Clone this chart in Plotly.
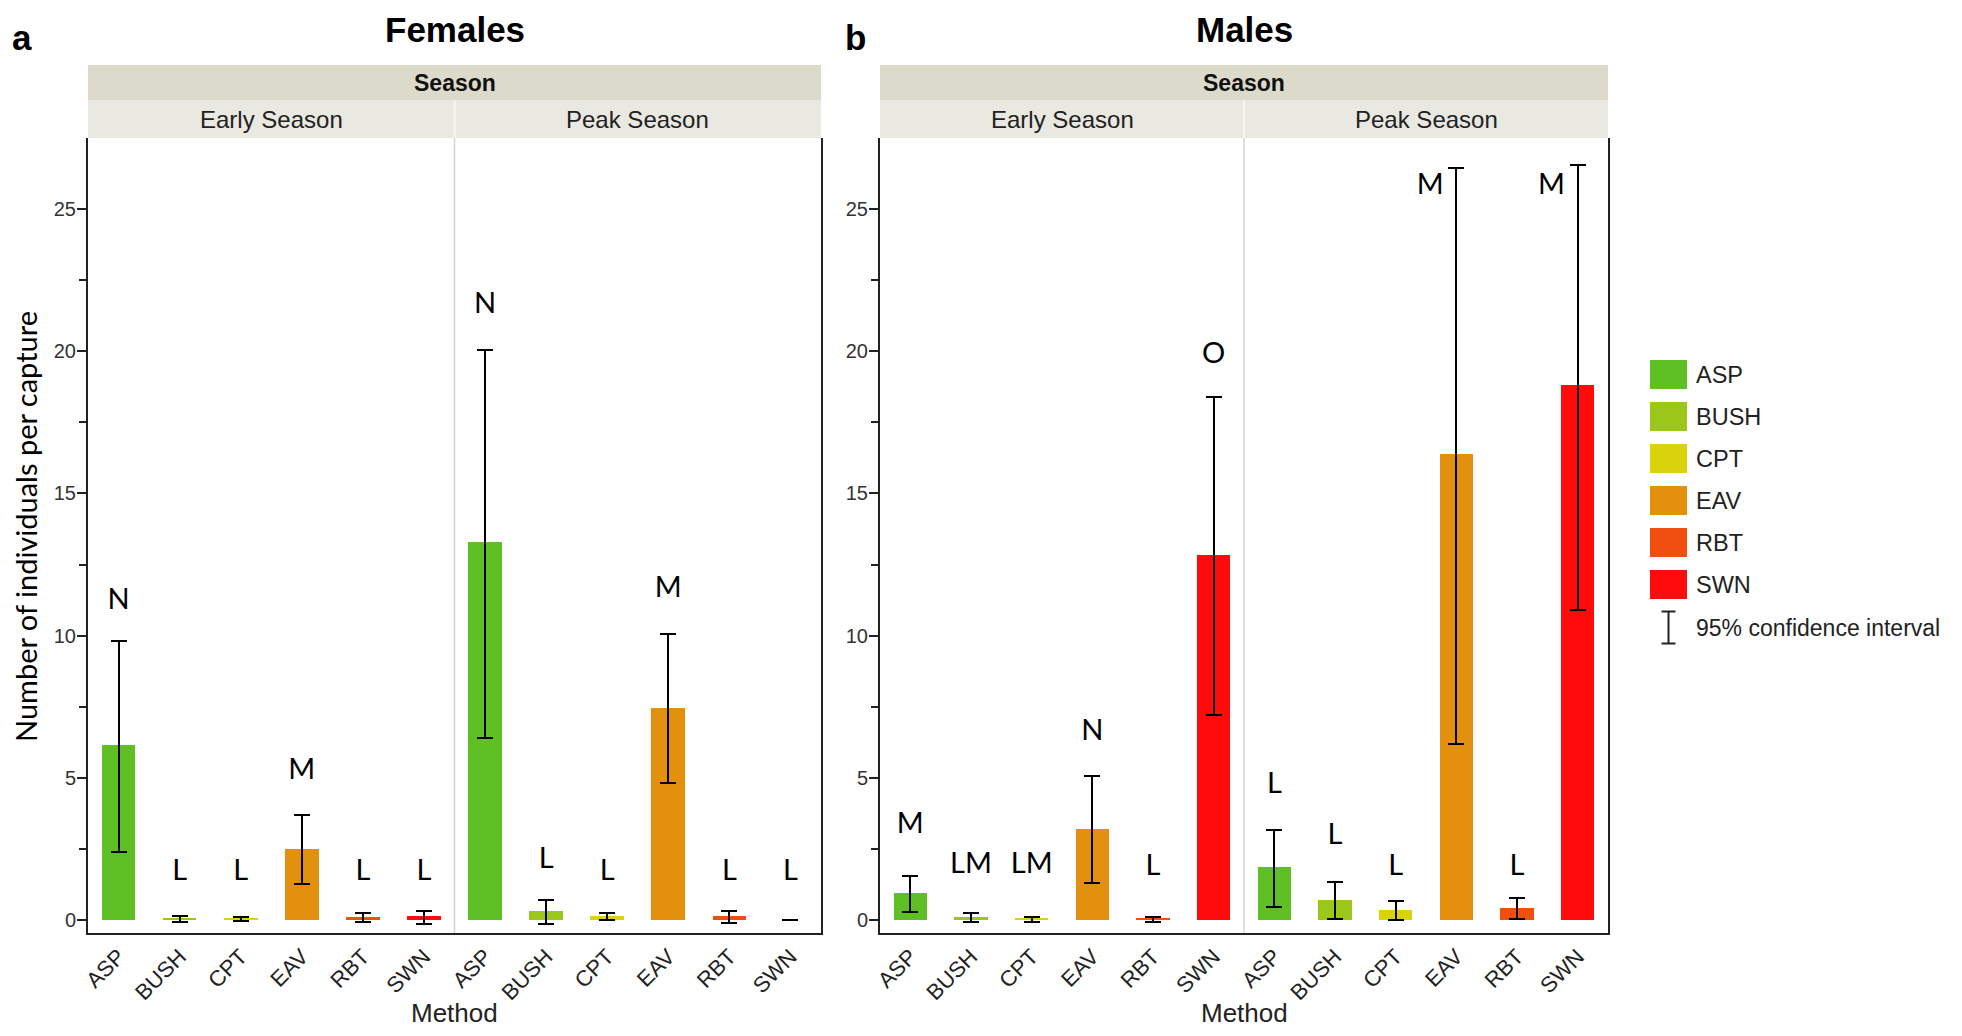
import plotly.graph_objects as go

# ---------------- data ----------------
methods = ["ASP", "BUSH", "CPT", "EAV", "RBT", "SWN"]
seasons = ["Early Season", "Peak Season"]
method_colors = ["#5EC024", "#9BC61A", "#D9D30B", "#E3900E", "#F0500F", "#FF0B0B"]

# Females (Early season x6, then Peak season x6)
fem_mean = [6.15, 0.08, 0.04, 2.50, 0.12, 0.13, 13.30, 0.32, 0.13, 7.47, 0.13, 0.00]
fem_lo = [2.40, -0.06, -0.05, 1.25, -0.09, -0.15, 6.40, -0.14, 0.01, 4.80, -0.10, 0.00]
fem_hi = [9.80, 0.14, 0.10, 3.70, 0.23, 0.33, 20.05, 0.70, 0.25, 10.05, 0.33, 0.00]
fem_letters = ["N", "L", "L", "M", "L", "L", "N", "L", "L", "M", "L", "L"]
fem_letter_y = [11.2, 1.65, 1.65, 5.2, 1.65, 1.65, 21.6, 2.07, 1.65, 11.6, 1.65, 1.65]
fem_letter_dx = [0, 0, 0, 0, 0, 0, 0, 0, 0, 0, 0, 0]

# Males
male_mean = [0.95, 0.10, 0.04, 3.20, 0.05, 12.85, 1.85, 0.70, 0.35, 16.37, 0.43, 18.80]
male_lo = [0.27, -0.08, -0.07, 1.30, -0.07, 7.20, 0.45, 0.05, 0.00, 6.20, 0.02, 10.90]
male_hi = [1.56, 0.26, 0.10, 5.05, 0.10, 18.40, 3.15, 1.32, 0.65, 26.45, 0.78, 26.56]
male_letters = ["M", "LM", "LM", "N", "L", "O", "L", "L", "L", "M", "L", "M"]
male_letter_y = [3.3, 1.9, 1.9, 6.6, 1.85, 19.85, 4.72, 2.93, 1.83, 25.8, 1.85, 25.8]
male_letter_dx = [0, 0, 0, 0, 0, 0, 0, 0, 0, -0.43, 0, -0.43]

y_ticks = [0, 5, 10, 15, 20, 25]
y_minor = [2.5, 7.5, 12.5, 17.5, 22.5]

# ---------------- layout helpers ----------------
W, H = 1962, 1036
OFF = 8                      # default page body margin
FW, FH = W - 2 * OFF, H - 2 * OFF
def px(x):
    return (x - OFF) / FW
def py(y):
    return 1 - (y - OFF) / FH

panels = [
    dict(x0=88, x1=821, mean=fem_mean, lo=fem_lo, hi=fem_hi, letters=fem_letters,
         ly=fem_letter_y, ldx=fem_letter_dx, title="Females", tag="a", tagx=22, xa="x", ya="y"),
    dict(x0=880, x1=1608, mean=male_mean, lo=male_lo, hi=male_hi, letters=male_letters,
         ly=male_letter_y, ldx=male_letter_dx, title="Males", tag="b", tagx=855, xa="x2", ya="y2"),
]
PLOT_TOP, PLOT_BOT = 138, 933
HDR_TOP, HDR_MID = 65, 100

n = len(methods) * len(seasons)
xs = list(range(n))
ticktext = methods * len(seasons)
bar_colors = method_colors * len(seasons)

fig = go.Figure()
shapes = []
annotations = []
AX_FONT = "Liberation Sans, Arial, Helvetica, sans-serif"
LET_FONT = "Lato, Open Sans, sans-serif"

def ann(x, y, text, size, family=AX_FONT, color="#222", xanchor="center", angle=0):
    annotations.append(dict(xref="paper", yref="paper", x=px(x), y=py(y), text=text,
                            xanchor=xanchor, yanchor="middle", showarrow=False, textangle=angle,
                            font=dict(family=family, size=size, color=color)))

for i, p in enumerate(panels):
    fig.add_trace(go.Bar(
        x=xs, y=p["mean"], width=0.55,
        marker=dict(color=bar_colors, line=dict(width=0)),
        error_y=dict(type="data", symmetric=False,
                     array=[h - m for h, m in zip(p["hi"], p["mean"])],
                     arrayminus=[m - l for m, l in zip(p["mean"], p["lo"])],
                     color="black", thickness=2, width=8),
        xaxis=p["xa"], yaxis=p["ya"], showlegend=False, hoverinfo="skip",
    ))
    fig.add_trace(go.Scatter(
        x=[x + d for x, d in zip(xs, p["ldx"])], y=p["ly"], mode="text", text=p["letters"],
        textfont=dict(family=LET_FONT, size=29, color="black"),
        xaxis=p["xa"], yaxis=p["ya"], showlegend=False, cliponaxis=False, hoverinfo="skip",
    ))
    sfx = "" if i == 0 else "2"
    fig.update_layout(**{
        "xaxis" + sfx: dict(domain=[px(p["x0"]), px(p["x1"])], range=[-0.5, n - 0.5],
                            anchor="y" + sfx, tickmode="array", tickvals=xs, ticktext=ticktext,
                            tickangle=-45, tickfont=dict(family=AX_FONT, size=22, color="#222"),
                            showline=True, linecolor="#222", linewidth=2, ticks="",
                            showgrid=False, zeroline=False, fixedrange=True, automargin=False),
        "yaxis" + sfx: dict(domain=[py(PLOT_BOT), py(PLOT_TOP)], range=[-0.46, 27.5],
                            anchor="x" + sfx, tickmode="array", tickvals=y_ticks,
                            ticks="outside", ticklen=9, tickwidth=1.5, tickcolor="#222",
                            ticklabelstandoff=-3,
                            minor=dict(tickmode="array", tickvals=y_minor, ticks="outside",
                                       ticklen=7, tickwidth=1.5, tickcolor="#222"),
                            tickfont=dict(family=AX_FONT, size=20, color="#333"),
                            showline=True, mirror=True, linecolor="#222", linewidth=2,
                            showgrid=False, zeroline=False, fixedrange=True, automargin=False),
    })
    xmid = (p["x0"] + p["x1"]) / 2
    # season divider inside plot
    shapes.append(dict(type="line", xref="x" + sfx, yref="y" + sfx + " domain",
                       x0=5.5, x1=5.5, y0=0, y1=1, line=dict(color="#D4D4D4", width=1.5)))
    # header bands
    shapes.append(dict(type="rect", xref="paper", yref="paper", x0=px(p["x0"]), x1=px(p["x1"]),
                       y0=py(HDR_MID), y1=py(HDR_TOP), fillcolor="#DCDACB", line=dict(width=0),
                       layer="below"))
    shapes.append(dict(type="rect", xref="paper", yref="paper", x0=px(p["x0"]), x1=px(p["x1"]),
                       y0=py(PLOT_TOP), y1=py(HDR_MID), fillcolor="#E9E8E1", line=dict(width=0),
                       layer="below"))
    shapes.append(dict(type="line", xref="paper", yref="paper", x0=px(xmid), x1=px(xmid),
                       y0=py(PLOT_TOP), y1=py(HDR_MID), line=dict(color="#F6F6F2", width=2)))
    ann(xmid, (HDR_TOP + HDR_MID) / 2 + 1, "<b>Season</b>", 23, color="#111")
    q = (p["x1"] - p["x0"]) / 4
    for j, s in enumerate(seasons):
        ann(p["x0"] + q * (2 * j + 1), (HDR_MID + PLOT_TOP) / 2, s, 24)
    ann(xmid, 29, "<b>" + p["title"] + "</b>", 35, color="black")
    ann(p["tagx"], 37, "<b>" + p["tag"] + "</b>", 35, color="black")
    ann(xmid, 1013, "Method", 26)

# y-axis title
ann(25, 527, "Number of individuals per capture", 29, family=LET_FONT, color="black", angle=-90)

# legend
LEG_X0, LEG_X1, LEG_Y0, LEG_STEP, LEG_H = 1650, 1687, 374.5, 42, 29
for k, (m, c) in enumerate(zip(methods, method_colors)):
    yc = LEG_Y0 + k * LEG_STEP
    shapes.append(dict(type="rect", xref="paper", yref="paper", x0=px(LEG_X0), x1=px(LEG_X1),
                       y0=py(yc + LEG_H / 2), y1=py(yc - LEG_H / 2), fillcolor=c, line=dict(width=0)))
    ann(1694, yc, m, 23.5, xanchor="left")
yc = LEG_Y0 + len(methods) * LEG_STEP + 1
cx = (LEG_X0 + LEG_X1) / 2
for seg in [(cx, yc - 16, cx, yc + 16), (cx - 7, yc - 16, cx + 7, yc - 16), (cx - 7, yc + 16, cx + 7, yc + 16)]:
    shapes.append(dict(type="line", xref="paper", yref="paper", x0=px(seg[0]), y0=py(seg[1]),
                       x1=px(seg[2]), y1=py(seg[3]), line=dict(color="#222", width=2)))
ann(1694, yc, "95% confidence interval", 23, xanchor="left")

fig.update_layout(width=FW, height=FH, autosize=False, margin=dict(l=0, r=0, t=0, b=0),
                  paper_bgcolor="white", plot_bgcolor="white", shapes=shapes, annotations=annotations,
                  bargap=0, showlegend=False)

fig.write_html("out.html")
